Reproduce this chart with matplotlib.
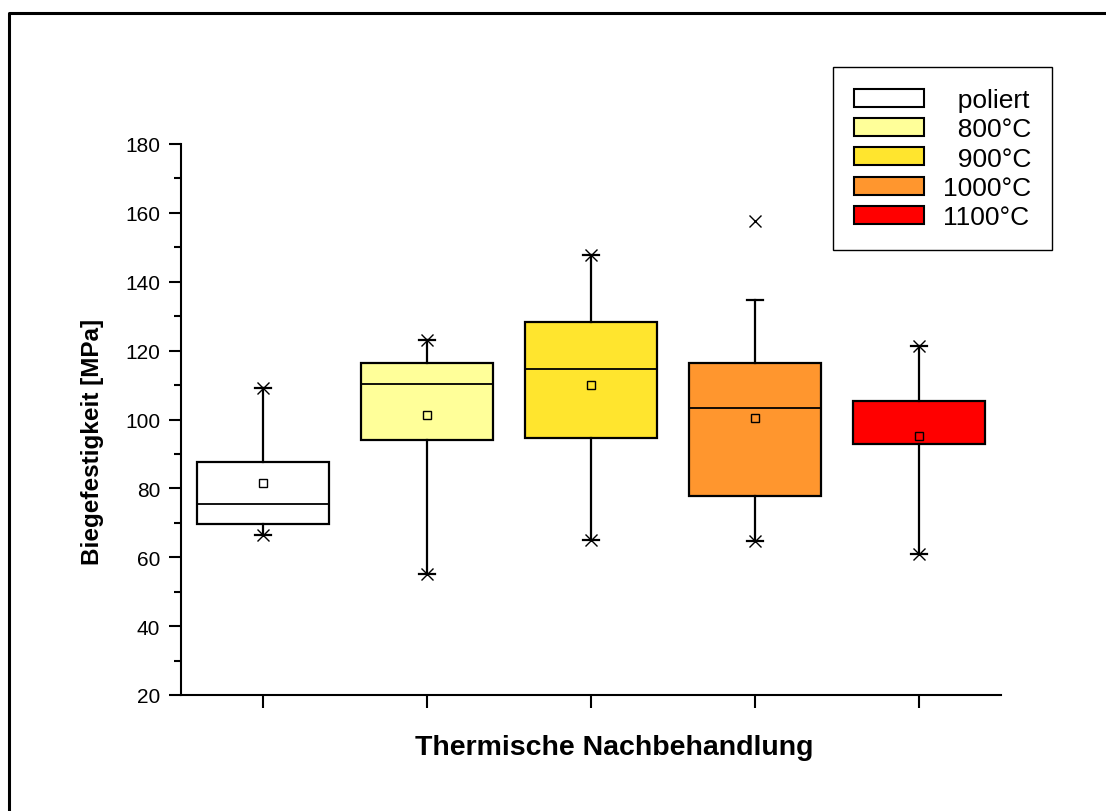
import matplotlib.pyplot as plt
from matplotlib.patches import Patch
from matplotlib.lines import Line2D
from matplotlib.ticker import MultipleLocator

plt.rcParams['font.family'] = ['Liberation Sans', 'DejaVu Sans']

# Werte (MPa)
labels = ['poliert', '800°C', '900°C', '1000°C', '1100°C']
legend_labels = ['  poliert', '  800°C', '  900°C', '1000°C', '1100°C']
colors = ['#FFFFFF', '#FFFF99', '#FFE52E', '#FF962E', '#FF0000']
q1 = [69.6, 94.0, 94.6, 77.8, 92.9]
median = [75.5, 110.3, 114.8, 103.3, 92.9]
q3 = [87.7, 116.4, 128.2, 116.5, 105.4]
mean = [81.6, 101.3, 110.1, 100.3, 95.1]
whis_lo = [66.5, 55.1, 65.1, 64.6, 60.9]
whis_hi = [109.1, 123.1, 147.8, 134.8, 121.2]
minimum = [66.5, 55.1, 65.1, 64.6, 60.9]
maximum = [109.1, 123.1, 147.8, 157.7, 121.2]

stats = []
for i in range(len(labels)):
    stats.append({'label': labels[i], 'q1': q1[i], 'med': median[i], 'q3': q3[i],
                  'mean': mean[i], 'whislo': whis_lo[i], 'whishi': whis_hi[i],
                  'fliers': []})

fig = plt.figure(figsize=(11.06, 8.12), dpi=100)
ax = fig.add_axes([181/1106, 116/812, 820/1106, 551/812])

pos = list(range(1, len(labels) + 1))
bp = ax.bxp(stats, positions=pos, widths=0.8, patch_artist=True, showmeans=True,
            showfliers=False, capwidths=[0.1]*len(labels),
            boxprops=dict(linewidth=1.6, edgecolor='black'),
            medianprops=dict(color='black', linewidth=1.3),
            whiskerprops=dict(color='black', linewidth=1.6),
            capprops=dict(color='black', linewidth=1.6),
            meanprops=dict(marker='s', markerfacecolor='none', markeredgecolor='black',
                           markersize=5.5, markeredgewidth=1))
for box, c in zip(bp['boxes'], colors):
    box.set_facecolor(c)

ax.plot(pos, minimum, 'x', color='black', markersize=8, markeredgewidth=1)
ax.plot(pos, maximum, 'x', color='black', markersize=8, markeredgewidth=1)

ax.set_xlim(0.5, 5.5)
ax.set_ylim(20, 180)
ax.yaxis.set_major_locator(MultipleLocator(20))
ax.yaxis.set_minor_locator(MultipleLocator(10))
ax.set_xticks(pos)
ax.set_xticklabels([])
ax.spines['top'].set_visible(False)
ax.spines['right'].set_visible(False)
ax.spines['left'].set_linewidth(1.5)
ax.spines['bottom'].set_linewidth(1.5)
ax.tick_params(axis='both', which='major', direction='out', length=9, width=1.5,
               labelsize=15, pad=6)
ax.tick_params(axis='y', which='minor', direction='out', length=5, width=1.5)

ax.set_xlabel('Thermische Nachbehandlung', fontsize=20.5, fontweight='bold')
ax.set_ylabel('Biegefestigkeit [MPa]', fontsize=17.5, fontweight='bold')
ax.xaxis.set_label_coords(0.528, -0.07)
ax.yaxis.set_label_coords(-0.094, 0.461)

handles = [Patch(facecolor=c, edgecolor='black', linewidth=1.5) for c in colors]
leg = ax.legend(handles, legend_labels, loc='upper left',
                bbox_to_anchor=(833/1106, (812-68)/812), bbox_transform=fig.transFigure,
                borderaxespad=0, fontsize=19, frameon=True, fancybox=False,
                edgecolor='black', framealpha=1, handlelength=2.65, handleheight=0.68,
                handletextpad=0.7, labelspacing=0.2, borderpad=0.8)
leg.get_frame().set_linewidth(1.0)

# Rahmen oben und links
fig.add_artist(Line2D([9/1106, 9/1106, 1.0], [0.0, (812-14)/812, (812-14)/812],
                      transform=fig.transFigure, color='black', linewidth=2.2))

fig.savefig('out.png', dpi=100)
